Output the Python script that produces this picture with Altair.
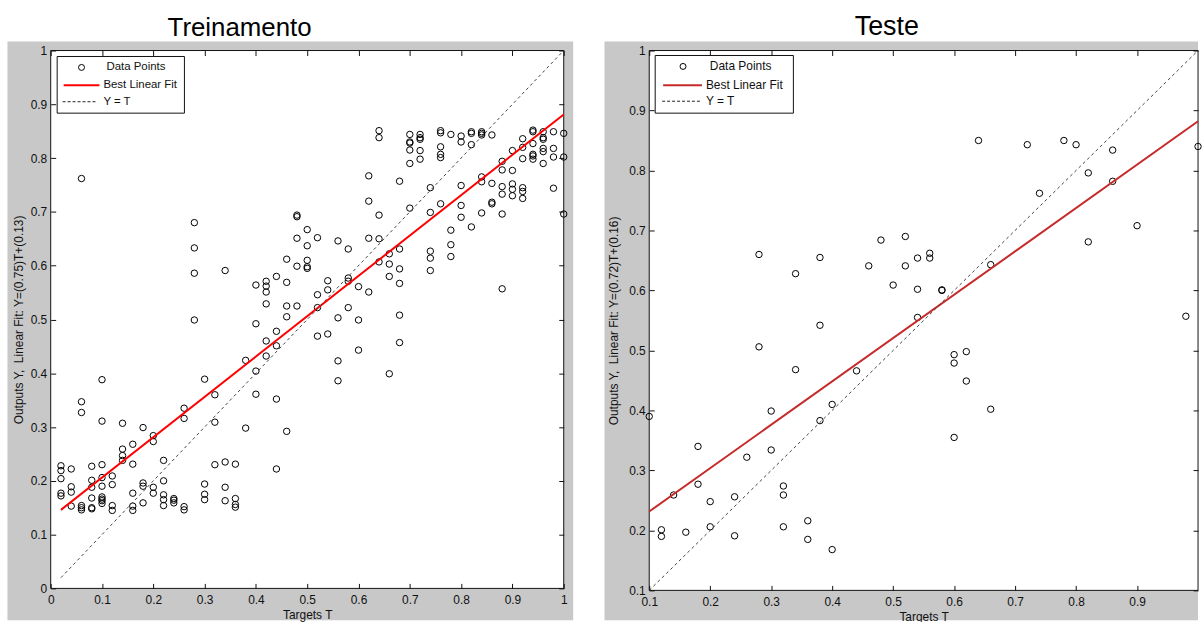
import altair as alt
import pandas as pd

FONT = "Liberation Sans"
GRAY = "#c8c8c8"

# ---------------- Data: Treinamento (Targets T -> list of Outputs Y) ----------------
train_groups = {
    0.02: [0.228, 0.219, 0.204, 0.177, 0.172],
    0.04: [0.222, 0.189, 0.179, 0.153],
    0.06: [0.762, 0.347, 0.327, 0.154, 0.150, 0.146],
    0.08: [0.227, 0.201, 0.188, 0.168, 0.150, 0.148],
    0.10: [0.388, 0.311, 0.230, 0.206, 0.190, 0.170, 0.166, 0.163, 0.158],
    0.12: [0.209, 0.193, 0.154, 0.145],
    0.14: [0.307, 0.259, 0.247, 0.238],
    0.16: [0.268, 0.231, 0.177, 0.153, 0.145],
    0.18: [0.299, 0.196, 0.190, 0.159],
    0.20: [0.284, 0.273, 0.188, 0.177],
    0.22: [0.238, 0.200, 0.174, 0.165, 0.154],
    0.24: [0.167, 0.164, 0.159],
    0.26: [0.335, 0.316, 0.152, 0.146],
    0.28: [0.680, 0.633, 0.586, 0.499],
    0.30: [0.389, 0.194, 0.175, 0.165],
    0.32: [0.360, 0.309, 0.230],
    0.34: [0.591, 0.235, 0.188, 0.163],
    0.36: [0.231, 0.167, 0.156, 0.151],
    0.38: [0.424, 0.298],
    0.40: [0.564, 0.492, 0.404, 0.361],
    0.42: [0.571, 0.562, 0.551, 0.529, 0.460, 0.432],
    0.44: [0.580, 0.478, 0.451, 0.352, 0.222],
    0.46: [0.612, 0.569, 0.525, 0.505, 0.292],
    0.48: [0.694, 0.691, 0.651, 0.599, 0.525],
    0.50: [0.667, 0.637, 0.610, 0.598, 0.595],
    0.52: [0.652, 0.546, 0.522, 0.469],
    0.54: [0.572, 0.555, 0.473],
    0.56: [0.646, 0.503, 0.423, 0.386],
    0.58: [0.631, 0.577, 0.571, 0.522],
    0.60: [0.561, 0.499, 0.443],
    0.62: [0.767, 0.720, 0.651, 0.551],
    0.64: [0.851, 0.838, 0.694, 0.650, 0.607],
    0.66: [0.622, 0.603, 0.580, 0.399],
    0.68: [0.757, 0.631, 0.594, 0.567, 0.508, 0.457],
    0.70: [0.844, 0.830, 0.828, 0.815, 0.790, 0.707],
    0.72: [0.844, 0.838, 0.835, 0.814, 0.798],
    0.74: [0.745, 0.699, 0.627, 0.614, 0.591],
    0.76: [0.851, 0.847, 0.821, 0.807, 0.801, 0.715],
    0.78: [0.844, 0.666, 0.639, 0.617],
    0.80: [0.841, 0.830, 0.749, 0.712, 0.690],
    0.82: [0.849, 0.846, 0.825, 0.672],
    0.84: [0.849, 0.846, 0.843, 0.765, 0.756, 0.698],
    0.86: [0.843, 0.753, 0.718, 0.715],
    0.88: [0.794, 0.778, 0.747, 0.733, 0.696, 0.557],
    0.90: [0.814, 0.777, 0.752, 0.742, 0.730],
    0.92: [0.836, 0.820, 0.799, 0.745, 0.738, 0.725],
    0.94: [0.852, 0.849, 0.827, 0.807, 0.804, 0.798],
    0.96: [0.849, 0.838, 0.835, 0.818, 0.812, 0.790],
    0.98: [0.849, 0.818, 0.802, 0.744],
    1.00: [0.846, 0.802, 0.696],
}
train_fit_T = [0.02, 1.0]
train_fit_Y = [0.146, 0.881]
train_ref_T = [0.02, 1.0]
train_ref_Y = [0.02, 1.0]

# ---------------- Data: Teste ----------------
test_groups = {
    0.10: [0.390],
    0.12: [0.201, 0.190],
    0.14: [0.259],
    0.16: [0.197],
    0.18: [0.340, 0.277],
    0.20: [0.248, 0.206],
    0.24: [0.256, 0.191],
    0.26: [0.322],
    0.28: [0.660, 0.506],
    0.30: [0.399, 0.334],
    0.32: [0.274, 0.259, 0.206],
    0.34: [0.628, 0.468],
    0.36: [0.216, 0.185],
    0.38: [0.655, 0.542, 0.383],
    0.40: [0.410, 0.168],
    0.44: [0.466],
    0.46: [0.641],
    0.48: [0.684],
    0.50: [0.609],
    0.52: [0.690, 0.641],
    0.54: [0.654, 0.602, 0.555],
    0.56: [0.662, 0.654],
    0.58: [0.601, 0.600],
    0.60: [0.493, 0.479, 0.355],
    0.62: [0.498, 0.449],
    0.64: [0.850],
    0.66: [0.643, 0.402],
    0.72: [0.843],
    0.74: [0.762],
    0.78: [0.850],
    0.80: [0.843],
    0.82: [0.796, 0.681],
    0.86: [0.834, 0.782],
    0.90: [0.708],
    0.98: [0.557],
    1.00: [0.840],
}
test_fit_T = [0.1, 1.0]
test_fit_Y = [0.2315, 0.882]
test_ref_T = [0.1, 1.0]
test_ref_Y = [0.1, 1.0]

train_xticks = [0, 0.1, 0.2, 0.3, 0.4, 0.5, 0.6, 0.7, 0.8, 0.9, 1]
train_yticks = [0, 0.1, 0.2, 0.3, 0.4, 0.5, 0.6, 0.7, 0.8, 0.9, 1]
test_xticks = [0.1, 0.2, 0.3, 0.4, 0.5, 0.6, 0.7, 0.8, 0.9]
test_yticks = [0.1, 0.2, 0.3, 0.4, 0.5, 0.6, 0.7, 0.8, 0.9, 1]


def flatten(groups):
    T, Y = [], []
    for t, ys in groups.items():
        for y in ys:
            T.append(t)
            Y.append(y)
    return pd.DataFrame({"T": T, "Y": Y})


def axis(orient, values, title=None, labels=True, tpad=4, lpad=4):
    kw = dict(orient=orient, values=values, offset=-5, tickSize=5, tickColor="#111",
              domain=False, grid=False, zindex=1, labelFlush=False, labelOverlap=False)
    if labels:
        kw.update(format="~g", labelFont=FONT, labelFontSize=12, labelColor="#111",
                  labelPadding=lpad, title=title, titleFont=FONT, titleFontSize=12,
                  titleFontWeight="normal", titleColor="#111", titlePadding=tpad)
    else:
        kw.update(labels=False, title=None)
    return alt.Axis(**kw)


def panel(p):
    W, H = p["W"], p["H"]
    xs = alt.Scale(domain=p["xdom"], nice=False, zero=False)
    ys = alt.Scale(domain=p["ydom"], nice=False, zero=False)
    dummy = alt.Chart(pd.DataFrame({"d": [0]}))

    bg = dummy.mark_rect(color=GRAY).encode(
        x=alt.value(p["gx1"]), x2=alt.value(p["gx2"]),
        y=alt.value(-9), y2=alt.value(p["gy2"]))
    box = dummy.mark_rect(fill="white", stroke="#111", strokeWidth=1).encode(
        x=alt.value(0), x2=alt.value(W), y=alt.value(0), y2=alt.value(H))

    pts = alt.Chart(p["pts"]).mark_point(
        shape="circle", filled=False, color="black", size=42, strokeWidth=1, opacity=1
    ).encode(
        x=alt.X("T:Q", scale=xs, axis=axis("bottom", p["xticks"], "Targets T",
                                           tpad=p["xtpad"], lpad=p["xlpad"])),
        y=alt.Y("Y:Q", scale=ys, axis=axis("left", p["yticks"], p["ylabel"], tpad=p["ytpad"])),
    )
    fit = alt.Chart(p["fit"]).mark_line(color=p["red"], strokeWidth=2).encode(
        x=alt.X("T:Q", scale=xs, axis=None), y=alt.Y("Y:Q", scale=ys, axis=None))
    ref = alt.Chart(p["ref"]).mark_line(color="#444", strokeWidth=1, strokeDash=[3, 3]).encode(
        x=alt.X("T:Q", scale=xs, axis=axis("top", p["xticks_top"], labels=False)),
        y=alt.Y("Y:Q", scale=ys, axis=axis("right", p["yticks"], labels=False)))

    L = p["leg"]
    lbox = dummy.mark_rect(fill="white", stroke="#111", strokeWidth=1).encode(
        x=alt.value(L["x1"]), x2=alt.value(L["x2"]), y=alt.value(L["y1"]), y2=alt.value(L["y2"]))
    lpt = dummy.mark_point(shape="circle", filled=False, color="black", size=36, strokeWidth=1,
                           opacity=1).encode(x=alt.value(L["cx"]), y=alt.value(L["r1"]))
    lred = dummy.mark_rule(color=p["red"], strokeWidth=2).encode(
        x=alt.value(L["lx1"]), x2=alt.value(L["lx2"]), y=alt.value(L["r2"]))
    ldash = dummy.mark_rule(color="#222", strokeWidth=1, strokeDash=[3, 2]).encode(
        x=alt.value(L["lx1"] - 1), x2=alt.value(L["lx2"] - 2), y=alt.value(L["r3"]))
    tstyle = dict(font=FONT, fontSize=L["fs"], align="left", baseline="middle", color="#111")
    t1 = dummy.mark_text(**tstyle).encode(x=alt.value(L["tx1"]), y=alt.value(L["r1"]),
                                          text=alt.value("Data Points"))
    t2 = dummy.mark_text(**tstyle).encode(x=alt.value(L["tx2"]), y=alt.value(L["r2"]),
                                          text=alt.value("Best Linear Fit"))
    t3 = dummy.mark_text(**tstyle).encode(x=alt.value(L["tx2"]), y=alt.value(L["r3"]),
                                          text=alt.value("Y = T"))

    return alt.layer(bg, box, pts, fit, ref, lbox, lpt, lred, ldash, t1, t2, t3).properties(
        width=W, height=H,
        title=alt.TitleParams(p["title"], font=FONT, fontSize=p["tfs"], fontWeight="normal",
                              color="black", anchor="middle", frame="group", dx=p["tdx"],
                              offset=-20, baseline="alphabetic"))


left = panel(dict(
    W=516, H=541, xdom=[0, 1], ydom=[0, 1],
    gx1=-43.5, gx2=525.5, gy2=573,
    pts=flatten(train_groups),
    fit=pd.DataFrame({"T": train_fit_T, "Y": train_fit_Y}),
    ref=pd.DataFrame({"T": train_ref_T, "Y": train_ref_Y}),
    xticks=train_xticks, xticks_top=train_xticks, yticks=train_yticks,
    ylabel="Outputs Y,\u00a0 Linear Fit: Y=(0.75)T+(0.13)", ytpad=5, xlpad=6.5, xtpad=4,
    red="#ff0000", title="Treinamento", tdx=-68, tfs=26,
    leg=dict(x1=6.5, x2=134.5, y1=6, y2=63, cx=31, r1=17, r2=35, r3=51.5,
             lx1=13, lx2=49, tx1=56, tx2=53, fs=11.5),
))

right = panel(dict(
    W=552, H=543, xdom=[0.1, 1], ydom=[0.1, 1],
    gx1=-45, gx2=552, gy2=573,
    pts=flatten(test_groups),
    fit=pd.DataFrame({"T": test_fit_T, "Y": test_fit_Y}),
    ref=pd.DataFrame({"T": test_ref_T, "Y": test_ref_Y}),
    xticks=test_xticks, xticks_top=test_xticks, yticks=test_yticks,
    ylabel="Outputs Y,\u00a0 Linear Fit: Y=(0.72)T+(0.16)", ytpad=8, xlpad=6, xtpad=4,
    red="#c62a2a", title="Teste", tdx=-37, tfs=27,
    leg=dict(x1=6, x2=145, y1=5, y2=63, cx=34, r1=16, r2=35, r3=51,
             lx1=14, lx2=53, tx1=61, tx2=57, fs=12),
))

chart = alt.hconcat(left, right, spacing=31).properties(
    padding={"left": 7, "top": 11, "right": 0, "bottom": 0},
    background="white",
).configure_view(stroke=None)

chart.save("out.html", embed_options={"renderer": "svg", "actions": False})
